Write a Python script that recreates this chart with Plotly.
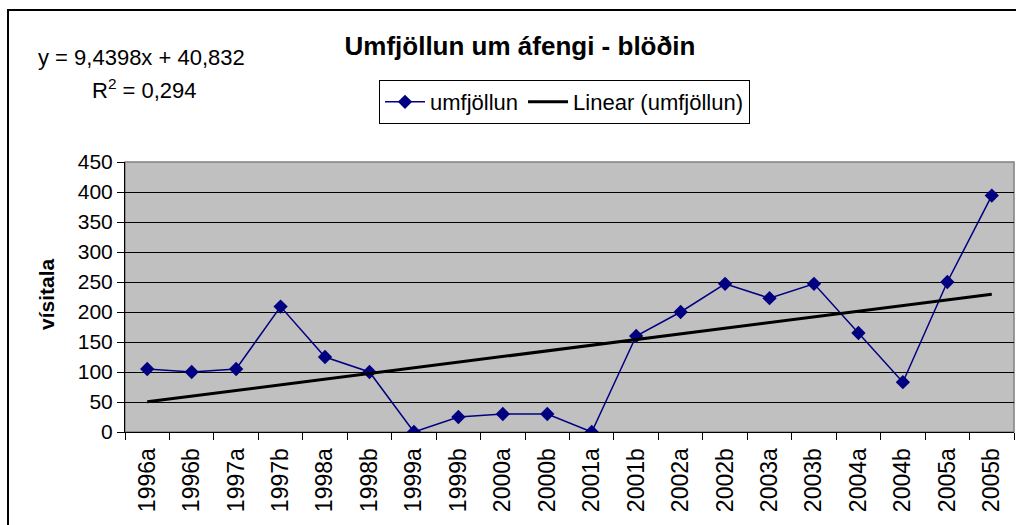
import plotly.graph_objects as go

# data
periods = ['1996a', '1996b', '1997a', '1997b', '1998a', '1998b', '1999a', '1999b',
           '2000a', '2000b', '2001a', '2001b', '2002a', '2002b', '2003a', '2003b',
           '2004a', '2004b', '2005a', '2005b']
umfjollun = [105, 100, 105, 209, 125, 100, 0, 25, 30, 30, 0, 160, 200, 247, 223, 247,
             165, 83, 250, 394]

# trendline as printed on the chart
slope = 9.4398
intercept = 40.832
trend = [slope * (i + 1) + intercept for i in range(len(periods))]

FONT = 'Liberation Sans'
W, H = 1016, 525
L, R, T, B = 125, 2, 162, 93

def px(x):
    return (x - L) / (W - L - R)

def py(y):
    return (H - B - y) / (H - T - B)

fig = go.Figure()
fig.add_trace(go.Scatter(x=periods, y=umfjollun, name='umfjöllun', mode='lines+markers',
                         line=dict(color='#000080', width=1.5),
                         marker=dict(symbol='diamond', size=11, color='#000080')))
fig.add_trace(go.Scatter(x=periods, y=trend, name='Linear (umfjöllun)', mode='lines',
                         line=dict(color='black', width=3)))

fig.update_layout(
    width=W, height=H,
    margin=dict(l=L, r=R, t=T, b=B, autoexpand=False),
    paper_bgcolor='white', plot_bgcolor='#C0C0C0',
    font=dict(family=FONT, size=21, color='black'),
    showlegend=True,
    legend=dict(orientation='h', x=px(379), y=py(80), xanchor='left', yanchor='top',
                bordercolor='black', borderwidth=1, bgcolor='white',
                font=dict(size=22), itemwidth=40, tracegroupgap=0),
    title=dict(text='<b>Umfjöllun um áfengi - blöðin</b>', x=520 / W, xanchor='center',
               y=1 - 46 / H, yanchor='middle', font=dict(size=26)),
)
fig.update_xaxes(type='category', range=[-0.5, len(periods) - 0.5], tickson='boundaries',
                 ticks='outside', ticklen=7, tickcolor='black', showline=True,
                 linecolor='black', linewidth=1, showgrid=False, tickangle=-90,
                 tickfont=dict(size=23), ticklabelstandoff=6, automargin=False)
fig.update_yaxes(range=[0, 450], dtick=50, ticks='outside', ticklen=7, tickcolor='black',
                 showline=True, linecolor='black', linewidth=1, showgrid=True,
                 gridcolor='black', gridwidth=1, tickfont=dict(size=21), zeroline=False,
                 automargin=False)

# grey border around the plot area (top/right), black outer chart border
fig.add_shape(type='rect', xref='paper', yref='paper', x0=0, y0=0, x1=1, y1=1,
              line=dict(color='#808080', width=1.5), layer='below')
fig.add_shape(type='rect', xref='paper', yref='paper', x0=px(8), y0=py(10), x1=px(1030),
              y1=py(540), line=dict(color='black', width=2))

fig.add_annotation(text='y = 9,4398x + 40,832', xref='paper', yref='paper', x=px(36), y=py(57),
                   xanchor='left', yanchor='middle', showarrow=False, font=dict(size=22))
fig.add_annotation(text='R<sup>2</sup> = 0,294', xref='paper', yref='paper', x=px(144), y=py(89),
                   xanchor='center', yanchor='middle', showarrow=False, font=dict(size=22))
fig.add_annotation(text='<b>vísitala</b>', xref='paper', yref='paper', x=px(46), y=py(294),
                   xanchor='center', yanchor='middle', textangle=-90, showarrow=False,
                   font=dict(size=21))

# drop the default page margin so the figure sits at the window's top-left corner
fig.write_html('out.html', config={'displayModeBar': False},
               post_script="document.body.style.margin='0';"
                           "document.body.style.overflow='hidden';")
